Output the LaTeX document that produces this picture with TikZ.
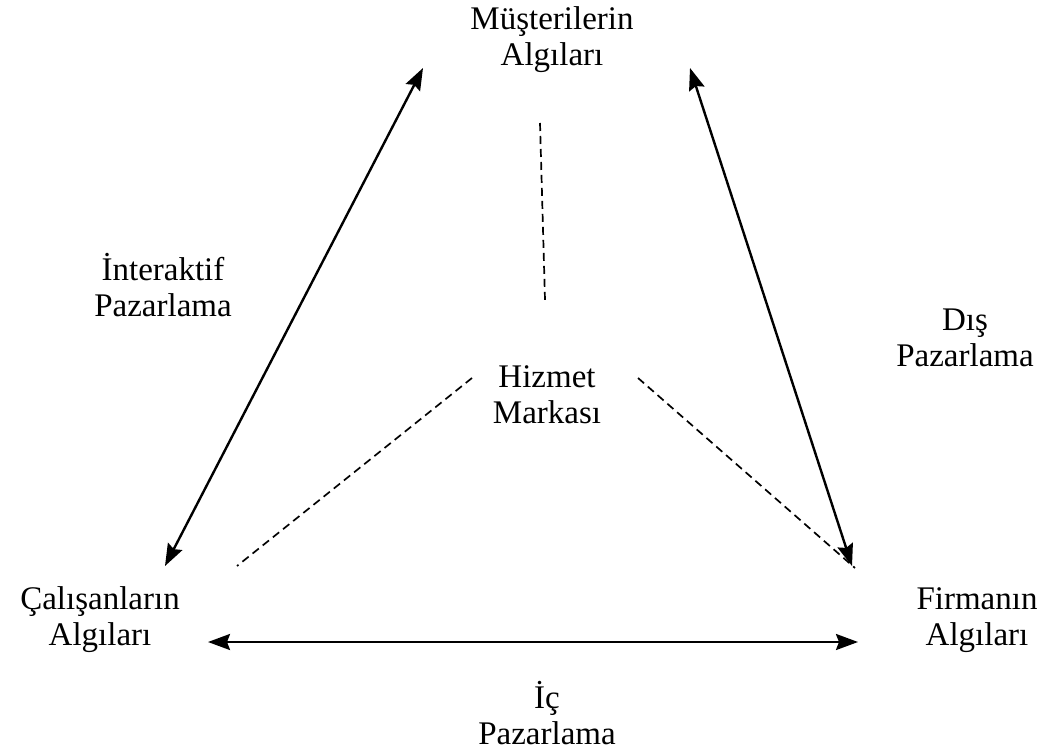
\documentclass[tikz,border=0pt]{standalone}
\usepackage{fontspec}
\setmainfont{Liberation Serif}
\usetikzlibrary{positioning,calc,arrows.meta}

\begin{document}
\begin{tikzpicture}[x=1pt,y=-1pt,
  every node/.style={font=\fontsize{33}{36}\selectfont,align=center,inner sep=0pt},
  twoway/.style={{Stealth[length=22pt,width=16pt,inset=3pt]}-{Stealth[length=22pt,width=16pt,inset=3pt]},line width=2.4pt},
  link/.style={dashed,line width=1.7pt,dash pattern=on 8pt off 5pt}]
\useasboundingbox (0,0) rectangle (1048,751);
\node (must) at (552,40) {Müşterilerin\\Algıları};
\node (hiz) at (547,395) {Hizmet\\Markası};
\node (cal) at (100,620) {Çalışanların\\Algıları};
\node (firm) at (977,620) {Firmanın\\Algıları};
\node (inter) at (163,285) {İnteraktif\\Pazarlama};
\node (dis) at (965,338) {Dış\\Pazarlama};
\node (ic) at (547,713) {İç\\Pazarlama};
% arrow ends
\coordinate (mL) at (423,68);
\coordinate (mR) at (690,68);
\coordinate (cT) at (165,566);
\coordinate (fT) at (852,566);
\coordinate (cB) at (208,642);
\coordinate (fB) at (858,642);
\draw[twoway] (cT)--(mL);
\draw[twoway] (mR)--(fT);
\draw[twoway] (cB)--(fB);
% dashed links to the brand
\coordinate (hT) at (545,300);
\coordinate (mB) at (540,123);
\coordinate (hL) at (472,378);
\coordinate (hR) at (638,378);
\coordinate (cD) at (237,566);
\coordinate (fD) at (855,568);
\draw[link] (mB)--(hT);
\draw[link] (hL)--(cD);
\draw[link] (hR)--(fD);
\end{tikzpicture}
\end{document}
